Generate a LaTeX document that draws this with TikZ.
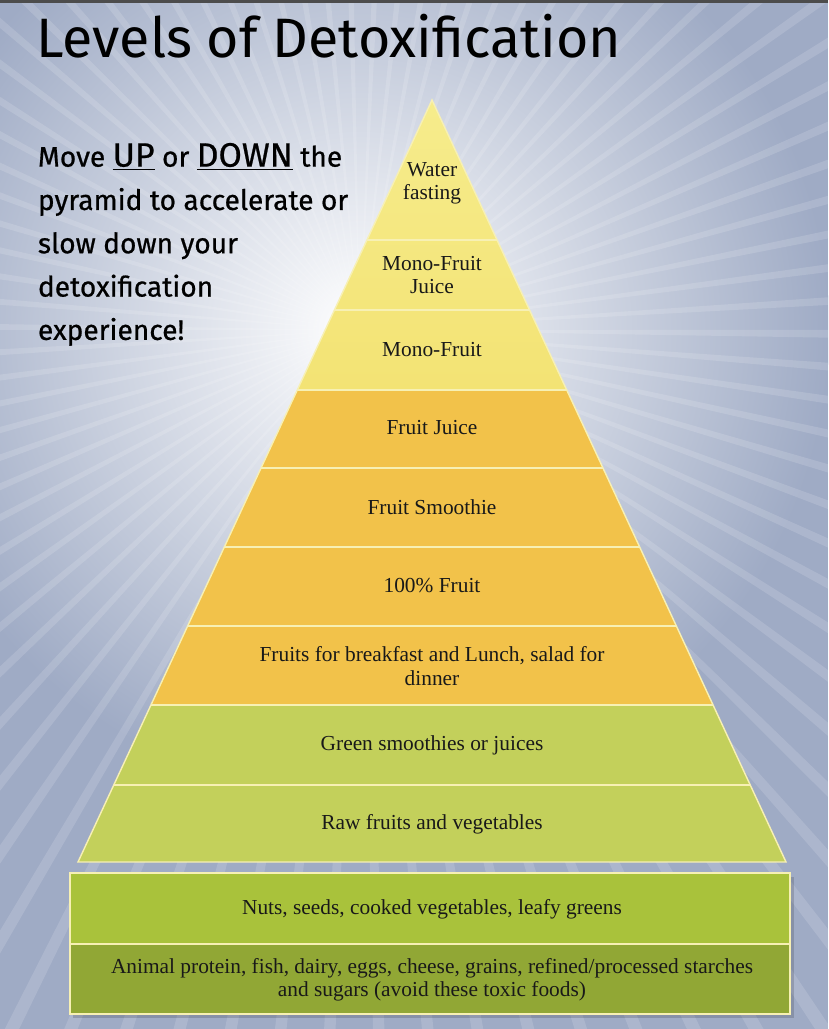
\documentclass[tikz,border=0pt]{standalone}
\usepackage{fontspec}
\setmainfont{Liberation Serif}
\newfontfamily\handfont[FakeBold=0.7]{Fira Sans}
\newfontfamily\titlefont{Fira Sans}
\usetikzlibrary{positioning}

\definecolor{skygray}{HTML}{9FABC5}
\definecolor{paleyellow}{HTML}{F3E374}
\definecolor{topyellow}{HTML}{F6EC8C}
\definecolor{fruitorange}{HTML}{F2C24A}
\definecolor{leafgreen}{HTML}{C3D05B}
\definecolor{nutgreen}{HTML}{A9C23B}
\definecolor{olivegreen}{HTML}{91A735}
\definecolor{cream}{HTML}{F7F0B4}

\newcommand{\bigword}[1]{{\fontsize{24}{30.8}\selectfont\underline{#1}}}

\begin{document}
\begin{tikzpicture}[x=0.025cm, y=-0.025cm,
    level/.style={font=\fontsize{15.2}{16.5}\selectfont, align=center, text=black!90},
    sep/.style={draw=cream, line width=1pt},
    hand/.style={font=\handfont\fontsize{20}{30.8}\selectfont, align=left}
  ]
  \useasboundingbox (0,0) rectangle (828,1029);

  % background with light rays
  \begin{scope}
    \clip (0,0) rectangle (828,1029);
    \fill[skygray] (0,0) rectangle (828,1029);
    \shade[inner color=white, outer color=skygray] (360,330) circle (470);
    \foreach \a in {0,4,...,356}
      \fill[white, opacity=0.14] (360,330) -- ++(\a:1100) -- ++(\a+90:18) -- cycle;
    \fill[black!70] (0,0) rectangle (828,3);
  \end{scope}

  % pyramid
  \coordinate (apex) at (432,100);
  \coordinate (bl)   at (78,862);
  \coordinate (br)   at (786,862);
  \begin{scope}
    \clip (apex) -- (bl) -- (br) -- cycle;
    \shade[top color=topyellow, bottom color=paleyellow] (0,100) rectangle (828,390);
    \fill[fruitorange] (0,390) rectangle (828,705);
    \fill[leafgreen]   (0,705) rectangle (828,862);
    \foreach \y in {240,310,390,468,547,626,705,785}
      \draw[sep] (0,\y) -- (828,\y);
  \end{scope}
  \draw[cream, line width=1pt] (apex) -- (bl) -- (br) -- cycle;

  % base boxes
  \fill[black, opacity=0.15] (73,877) rectangle (794,1018);
  \fill[nutgreen]   (70,873) rectangle (790,944);
  \fill[olivegreen] (70,944) rectangle (790,1014);
  \draw[cream, line width=1pt] (70,873) rectangle (790,1014);
  \draw[sep] (70,944) -- (790,944);

  % title and side note
  \node[anchor=base west, inner sep=0pt, font=\titlefont\fontsize{39.5}{41}\selectfont] (title) at (36,58) {Levels of Detoxification};
  \node[hand, anchor=north west] (note) at (33,138)
    {Move \bigword{UP} or \bigword{DOWN} the\\pyramid to accelerate or\\slow down your\\detoxification\\experience!};

  % level labels
  \node[level] (water)     at (432,183) {Water\\fasting};
  \node[level] (monojuice) at (432,275) {Mono-Fruit\\Juice};
  \node[level] (mono)      at (432,350) {Mono-Fruit};
  \node[level] (juice)     at (432,428) {Fruit Juice};
  \node[level] (smoothie)  at (432,507) {Fruit Smoothie};
  \node[level] (allfruit)  at (432,586) {100\% Fruit};
  \node[level] (breakfast) at (432,666) {Fruits for breakfast and Lunch, salad for\\dinner};
  \node[level] (greens)    at (432,745) {Green smoothies or juices};
  \node[level] (raw)       at (432,824) {Raw fruits and vegetables};
  \node[level] (nuts)      at (432,909) {Nuts, seeds, cooked vegetables, leafy greens};
  \node[level] (animal)    at (432,980) {Animal protein, fish, dairy, eggs, cheese, grains, refined/processed starches\\and sugars (avoid these toxic foods)};
\end{tikzpicture}
\end{document}
